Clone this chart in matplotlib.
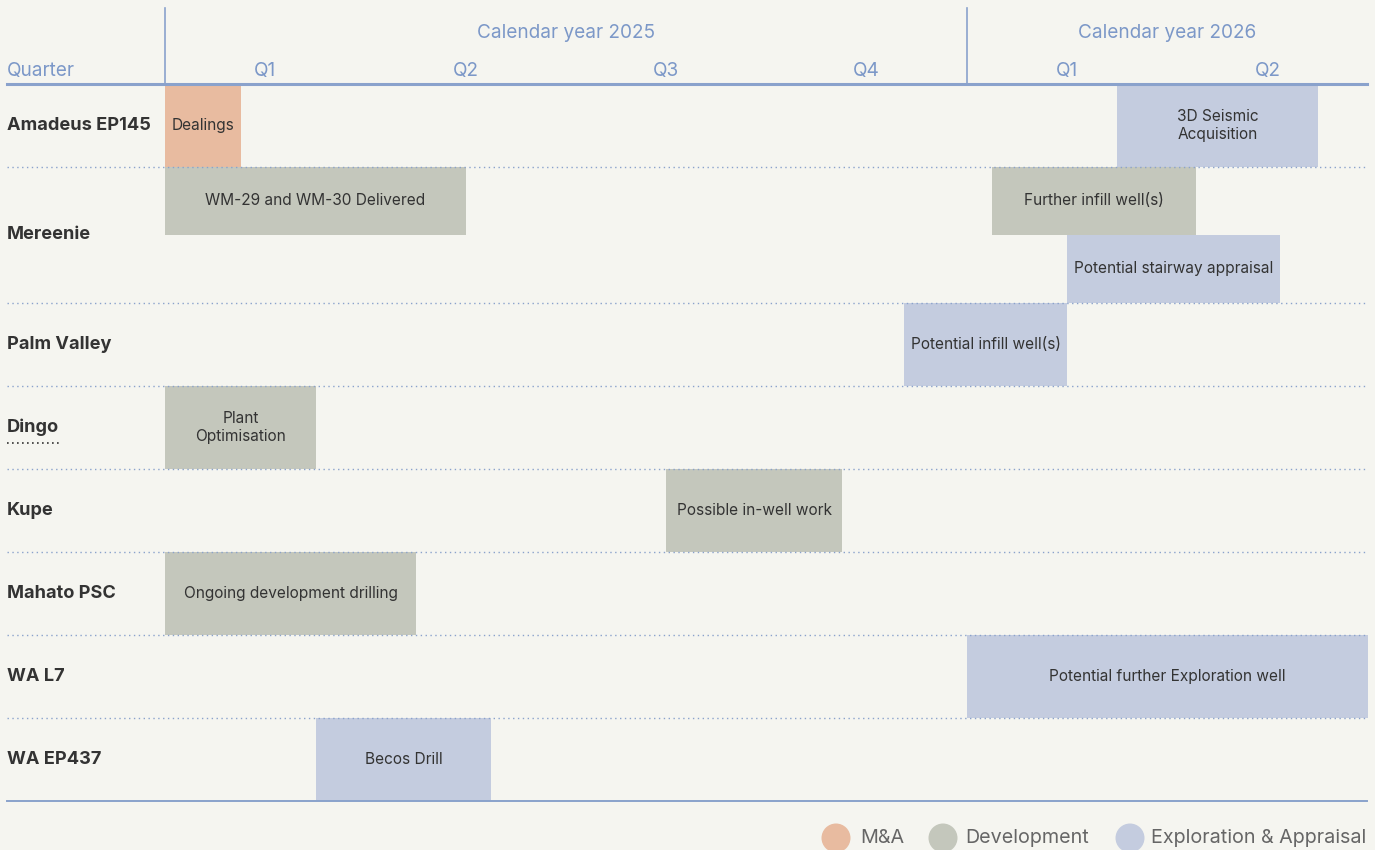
import matplotlib.pyplot as plt
import matplotlib.transforms as mtransforms
from matplotlib.patches import Rectangle, Circle

# projekty (kolejność od góry) i względna wysokość wiersza
projects = ["Amadeus EP145", "Mereenie", "Palm Valley", "Dingo", "Kupe",
            "Mahato PSC", "WA L7", "WA EP437"]
row_heights = [1.0, 1.63, 1.0, 1.0, 1.0, 1.0, 1.0, 1.0]

# zadania: projekt, pas w wierszu, start (miesiące od I 2025), koniec, kategoria, etykieta
task_project = ["Amadeus EP145", "Amadeus EP145", "Mereenie", "Mereenie", "Mereenie",
                "Palm Valley", "Dingo", "Kupe", "Mahato PSC", "WA L7", "WA EP437"]
task_lane = [0, 0, 0, 0, 1, 0, 0, 0, 0, 0, 0]
task_start = [0.0, 14.25, 0.0, 12.38, 13.5, 11.06, 0.0, 7.5, 0.0, 12.0, 2.26]
task_end = [1.14, 17.25, 4.5, 15.42, 16.69, 13.5, 2.26, 10.13, 3.76, 18.0, 4.88]
task_cat = ["M&A", "Exploration & Appraisal", "Development", "Development",
            "Exploration & Appraisal", "Exploration & Appraisal", "Development",
            "Development", "Development", "Exploration & Appraisal",
            "Exploration & Appraisal"]
task_label = ["Dealings", "3D Seismic\nAcquisition", "WM-29 and WM-30 Delivered",
              "Further infill well(s)", "Potential stairway appraisal",
              "Potential infill well(s)", "Plant\nOptimisation", "Possible in-well work",
              "Ongoing development drilling", "Potential further Exploration well",
              "Becos Drill"]

years = ["Calendar year 2025", "Calendar year 2026"]
year_start = [0, 12]
year_end = [12, 18]
quarters = ["Q1", "Q2", "Q3", "Q4", "Q1", "Q2"]
categories = ["M&A", "Development", "Exploration & Appraisal"]
cat_colors = {"M&A": "#E8BBA0", "Development": "#C4C7BC",
              "Exploration & Appraisal": "#C4CCDF"}

BG = "#F5F5F0"
BLUE = "#7C98C8"
LINE = "#8AA2CC"
TXT = "#333333"

plt.rcParams["font.family"] = ["Inter", "DejaVu Sans"]

W, H = 1375, 850
fig = plt.figure(figsize=(W / 100, H / 100), dpi=100)
fig.patch.set_facecolor(BG)

# warstwa w pikselach (legenda)
ov = fig.add_axes([0, 0, 1, 1])
ov.set_xlim(0, W)
ov.set_ylim(H, 0)
ov.axis("off")

# obszar wykresu: od 165 do 1368 px w poziomie, od 84 do 801 px w pionie
ax = fig.add_axes([165 / W, (H - 801) / H, (1368 - 165) / W, (801 - 84) / H])
ax.set_facecolor("none")
total = sum(row_heights)
ax.set_xlim(0, 18)
ax.set_ylim(total, 0)
ax.axis("off")

tr = mtransforms.blended_transform_factory(fig.transFigure, ax.transData)
x_left, x_right = 7 / W, 1367 / W

# wiersze
row_top = {}
y = 0.0
for name, h in zip(projects, row_heights):
    row_top[name] = y
    ax.text(x_left, y + h / 2, name, transform=tr, fontsize=13.1,
            fontweight="bold", color=TXT, ha="left", va="center")
    y += h
    if y < total:
        ax.plot([x_left, x_right], [y, y], transform=tr, color=LINE,
                lw=1.0, ls=(0, (1, 2.5)), clip_on=False)

# kropkowane podkreślenie "Dingo"
dingo_y = row_top["Dingo"] + 0.5 + 0.19
ax.plot([x_left, 60 / W], [dingo_y, dingo_y], transform=tr, color=TXT,
        lw=1.2, ls=(0, (1, 2)), clip_on=False)

# paski zadań
for proj, lane, s, e, cat, lab in zip(task_project, task_lane, task_start,
                                      task_end, task_cat, task_label):
    h = row_heights[projects.index(proj)]
    nl = 2 if h > 1.2 else 1
    lh = h / nl
    y0 = row_top[proj] + lane * lh
    ax.add_patch(Rectangle((s, y0), e - s, lh, facecolor=cat_colors[cat],
                           edgecolor="none"))
    ax.text((s + e) / 2, y0 + lh / 2, lab, ha="center", va="center",
            fontsize=11.1, color=TXT, linespacing=1.25)

# nagłówek
ax.plot([x_left, x_right], [0, 0], transform=tr, color=LINE, lw=2.2,
        clip_on=False)
ax.plot([x_left, x_right], [total, total], transform=tr, color=LINE,
        lw=1.4, clip_on=False)
for xv in year_start:
    ax.plot([xv, xv], [0, -76 / 83], color=LINE, lw=1.2, clip_on=False)
for yr, s, e in zip(years, year_start, year_end):
    ax.text((s + e) / 2, -51 / 83, yr, ha="center", va="center",
            fontsize=13.7, color=BLUE)
for i, q in enumerate(quarters):
    ax.text(1.5 + 3 * i, -13 / 83, q, ha="center", va="center", fontsize=13.7,
            color=BLUE)
ax.text(x_left, -13 / 83, "Quarter", transform=tr, ha="left",
        va="center", fontsize=13.7, color=BLUE)

# legenda
legend_x = [836, 943, 1130]
text_x = [860, 965, 1151]
for cat, cx, tx in zip(categories, legend_x, text_x):
    ov.add_patch(Circle((cx, 838), 14.5, facecolor=cat_colors[cat],
                        edgecolor="none"))
    ov.text(tx, 838, cat, ha="left", va="center", fontsize=14.2,
            color="#666666")

fig.savefig("out.png", dpi=100, facecolor=BG)
